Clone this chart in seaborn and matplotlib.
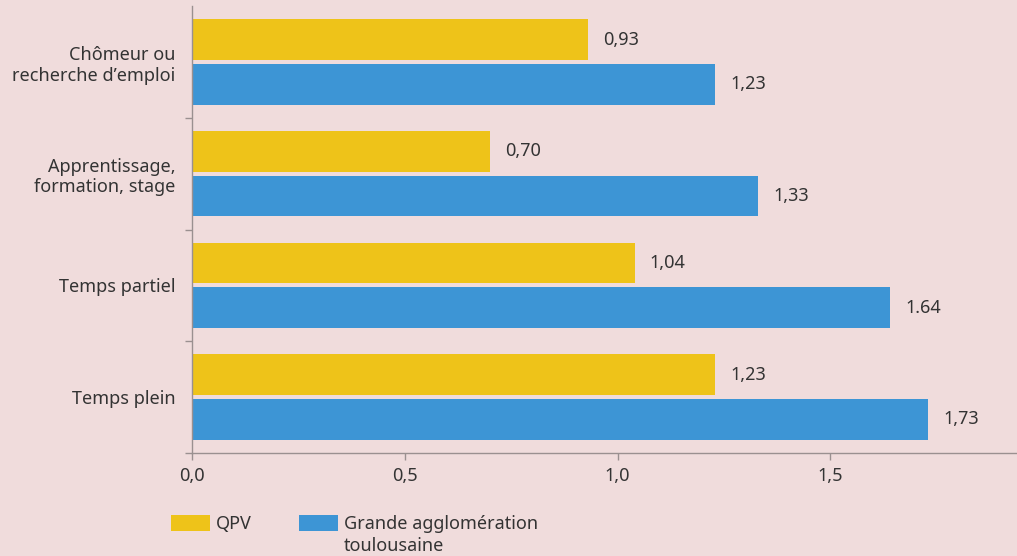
import matplotlib
matplotlib.use("Agg")
import matplotlib.pyplot as plt
from matplotlib.patches import Rectangle
from matplotlib.ticker import FixedLocator
import numpy as np
import pandas as pd
import seaborn as sns

# Data
categories = ["Chômeur ou\nrecherche d\u2019emploi", "Apprentissage,\nformation, stage",
              "Temps partiel", "Temps plein"]
series = ["QPV", "Grande agglomération\ntoulousaine"]
qpv = [0.93, 0.70, 1.04, 1.23]
agglo = [1.23, 1.33, 1.64, 1.73]
qpv_labels = ["0,93", "0,70", "1,04", "1,23"]
agglo_labels = ["1,23", "1,33", "1.64", "1,73"]
xticks = [0.0, 0.5, 1.0, 1.5]
xtick_labels = ["0,0", "0,5", "1,0", "1,5"]

BG = "#f0dcdc"
YELLOW = "#eec319"
BLUE = "#3d95d5"
TEXT = "#333333"
AXIS = "#9a9090"

sns.set_style("white", {"axes.facecolor": BG, "figure.facecolor": BG})
plt.rcParams["font.family"] = ["Noto Sans", "DejaVu Sans"]
plt.rcParams["text.color"] = TEXT

FS = 13

df = pd.DataFrame({
    "categorie": categories * 2,
    "serie": [series[0]] * 4 + [series[1]] * 4,
    "valeur": qpv + agglo,
})

fig = plt.figure(figsize=(10.17, 5.56), dpi=100)
ax = fig.add_axes([192 / 1017, 1 - 453 / 556, 1 - 192 / 1017, (453 - 6) / 556])
ax.set_facecolor(BG)

sns.barplot(data=df, y="categorie", x="valeur", hue="serie", orient="h",
            order=categories, hue_order=series, palette=[YELLOW, BLUE],
            saturation=1, width=0.8, gap=0.09, legend=False, linewidth=0,
            edgecolor="none", ax=ax)

for cont, labs in zip(ax.containers, [qpv_labels, agglo_labels]):
    ax.bar_label(cont, labels=labs, padding=11, fontsize=FS, color=TEXT)

ax.set_xlim(0, (1017 - 192) / 425.5)
ax.set_ylim(3.5, -0.5)
ax.set_xlabel("")
ax.set_ylabel("")

ax.set_xticks(xticks)
ax.set_xticklabels(xtick_labels, fontsize=FS, color=TEXT)
ax.tick_params(axis="x", length=5, width=1, color=AXIS, pad=5, bottom=True)

ax.set_yticks(range(len(categories)))
ax.set_yticklabels(categories, fontsize=FS, color=TEXT, linespacing=1.2)
ax.tick_params(axis="y", which="major", length=0, pad=12, left=True)
ax.yaxis.set_minor_locator(FixedLocator([0.5, 1.5, 2.5, 3.5]))
ax.tick_params(axis="y", which="minor", length=5, width=1, color=AXIS, left=True)

for side in ["top", "right"]:
    ax.spines[side].set_visible(False)
for side in ["left", "bottom"]:
    ax.spines[side].set_color(AXIS)
    ax.spines[side].set_linewidth(1)

# Legend below the axes
W, H = 1017, 556
def fx(px):
    return px / W
def fy(py):
    return 1 - py / H

for x0, color, label in [(171, YELLOW, series[0]), (299, BLUE, series[1])]:
    fig.add_artist(Rectangle((fx(x0), fy(531)), fx(39), 16 / H, transform=fig.transFigure,
                             facecolor=color, edgecolor="none"))
    fig.text(fx(x0 + 45), fy(515), label, fontsize=FS, color=TEXT, va="top",
             ha="left", linespacing=1.3, transform=fig.transFigure)

fig.savefig("out.png", dpi=100, facecolor=BG)
